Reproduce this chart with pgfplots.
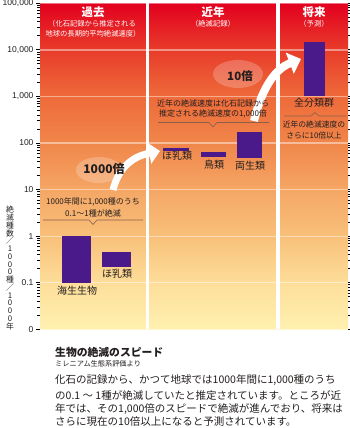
\documentclass[border=0pt]{standalone}
\usepackage{fontspec}
\setmainfont{Liberation Sans}
\newfontfamily\jp{Noto Sans CJK JP}
\usepackage{pgfplots}
\pgfplotsset{compat=1.18}
\usetikzlibrary{arrows.meta}
\definecolor{barc}{RGB}{74,26,138}
\definecolor{cA}{RGB}{227,0,31}
\definecolor{cB}{RGB}{232,58,42}
\definecolor{cC}{RGB}{238,106,58}
\definecolor{cD}{RGB}{240,134,74}
\definecolor{cE}{RGB}{245,166,101}
\definecolor{cF}{RGB}{248,192,122}
\definecolor{cG}{RGB}{253,222,154}
\definecolor{cH}{RGB}{255,241,176}
\definecolor{brk}{RGB}{140,95,75}
\definecolor{txt}{RGB}{35,30,30}
\pgfdeclareverticalshading{bgsh}{100bp}{color(0bp)=(cH); color(25bp)=(cH); color(32.1bp)=(cG); color(39.3bp)=(cF); color(46.5bp)=(cE); color(53.6bp)=(cD); color(60.8bp)=(cC); color(68.1bp)=(cB); color(75bp)=(cA); color(100bp)=(cA)}
\begin{document}
\begin{tikzpicture}
\useasboundingbox (0,0) rectangle (350pt,-428pt);
\begin{axis}[
  at={(40pt,-329.3pt)}, anchor=south west, scale only axis,
  width=308pt, height=326pt,
  xmin=40, xmax=348, ymode=log, ymin=0.01, ymax=100000,
  axis background/.style={shading=bgsh},
  axis line style={draw=none},
  xtick=\empty,
  ytick={0.01,0.1,1,10,100,1000,10000,100000},
  yticklabels={0,0.1,1,10,100,{1,000},{10,000},{100,000}},
  minor ytick={},
  tick align=outside, major tick length=4pt,
  ytick style={draw=black, line width=0.8pt},
  yticklabel style={font=\fontsize{8.5}{10}\selectfont, text=txt, xshift=1pt},
  /pgf/number format/assume math mode=true,
  ymajorgrids, major grid style={white, opacity=0.45, line width=1.3pt},
  clip=false,
]
\draw[white, line width=3.5pt] (axis cs:147.5,0.01) -- (axis cs:147.5,100000);
\draw[white, line width=3.5pt] (axis cs:278,0.01) -- (axis cs:278,100000);
% bars (x in px, y values)
\addplot[fill=barc, draw=none] coordinates {(62,0.1) (91,0.1) (91,1) (62,1)} -- cycle;
\addplot[fill=barc, draw=none] coordinates {(102,0.22) (131,0.22) (131,0.45) (102,0.45)} -- cycle;
\addplot[fill=barc, draw=none] coordinates {(163,69) (189,69) (189,78) (163,78)} -- cycle;
\addplot[fill=barc, draw=none] coordinates {(201,49) (226,49) (226,63) (201,63)} -- cycle;
\addplot[fill=barc, draw=none] coordinates {(237,48) (262,48) (262,175) (237,175)} -- cycle;
\addplot[fill=barc, draw=none] coordinates {(304,1000) (325,1000) (325,14500) (304,14500)} -- cycle;
\end{axis}
% panel titles
\node[white, font=\jp\bfseries\fontsize{11.5}{12}\selectfont, inner sep=0] at (93pt,-12pt) {過去};
\node[white, font=\jp\fontsize{7.3}{9}\selectfont, inner sep=0] at (92pt,-24pt) {（化石記録から推定される};
\node[white, font=\jp\fontsize{7.3}{9}\selectfont, inner sep=0] at (93pt,-33.5pt) {地球の長期的平均絶滅速度）};
\node[white, font=\jp\bfseries\fontsize{11.5}{12}\selectfont, inner sep=0] at (213pt,-12pt) {近年};
\node[white, font=\jp\fontsize{7.3}{9}\selectfont, inner sep=0] at (213pt,-24pt) {（絶滅記録）};
\node[white, font=\jp\bfseries\fontsize{11.5}{12}\selectfont, inner sep=0] at (314pt,-12pt) {将来};
\node[white, font=\jp\fontsize{7.3}{9}\selectfont, inner sep=0] at (314pt,-24pt) {（予測）};
% ellipses
\fill[white, opacity=0.22] (238pt,-74pt) ellipse (25pt and 14pt);
\fill[white, opacity=0.22] (99pt,-170pt) ellipse (23pt and 13pt);
% arrows
\draw[white, line width=7pt, -{Triangle[width=21pt, length=11pt]}] (113pt,-190pt) .. controls (118pt,-170pt) and (130pt,-157pt) .. (160pt,-151pt);
\draw[white, line width=8pt, -{Triangle[width=22pt, length=12pt]}] (254pt,-121pt) .. controls (260pt,-95pt) and (272pt,-70pt) .. (301pt,-59pt);
\node[txt, font=\jp\bfseries\fontsize{11.5}{12}\selectfont, inner sep=0] at (240pt,-76pt) {10倍};
\node[txt, font=\jp\bfseries\fontsize{12}{12}\selectfont, inner sep=0] at (104pt,-169pt) {1000倍};
% past annotation
\node[txt, font=\jp\fontsize{8}{9}\selectfont, inner sep=0] at (93pt,-202pt) {1000年間に1,000種のうち};
\node[txt, font=\jp\fontsize{8}{9}\selectfont, inner sep=0] at (93pt,-213pt) {0.1～1種が絶滅};
\draw[brk, line width=0.6pt] (43pt,-220pt) -- (89pt,-220pt) -- (93pt,-224.5pt) -- (97pt,-220pt) -- (143pt,-220pt);
% recent annotation
\node[txt, font=\jp\fontsize{8}{9}\selectfont, inner sep=0] at (213pt,-103pt) {近年の絶滅速度は化石記録から};
\node[txt, font=\jp\fontsize{8}{9}\selectfont, inner sep=0] at (213pt,-114pt) {推定される絶滅速度の1,000倍};
\draw[brk, line width=0.6pt] (158pt,-122.5pt) -- (209pt,-122.5pt) -- (213pt,-127pt) -- (217pt,-122.5pt) -- (269pt,-122.5pt);
% future annotation
\node[txt, font=\jp\fontsize{10}{11}\selectfont, inner sep=0] at (314pt,-103pt) {全分類群};
\draw[brk, line width=0.6pt] (284pt,-116pt) -- (311pt,-116pt) -- (315pt,-112.5pt) -- (319pt,-116pt) -- (346pt,-116pt);
\node[txt, font=\jp\fontsize{7.8}{9}\selectfont, inner sep=0] at (314pt,-125pt) {近年の絶滅速度の};
\node[txt, font=\jp\fontsize{7.8}{9}\selectfont, inner sep=0] at (314pt,-135.5pt) {さらに10倍以上};
% category labels
\node[txt, font=\jp\fontsize{10}{11}\selectfont, inner sep=0] at (77pt,-291pt) {海生生物};
\node[txt, font=\jp\fontsize{10}{11}\selectfont, inner sep=0] at (117pt,-274pt) {ほ乳類};
\node[txt, font=\jp\fontsize{10}{11}\selectfont, inner sep=0] at (177pt,-156pt) {ほ乳類};
\node[txt, font=\jp\fontsize{10}{11}\selectfont, inner sep=0] at (214pt,-165pt) {鳥類};
\node[txt, font=\jp\fontsize{10}{11}\selectfont, inner sep=0] at (250pt,-166pt) {両生類};
% y label (vertical)
\node[txt, font=\jp\fontsize{7.8}{7.75}\selectfont, inner sep=0, align=center, anchor=north] at (10pt,-206pt) {絶\\滅\\種\\数\\／\\1\\0\\0\\0\\種\\／\\1\\0\\0\\0\\年};
% caption
\node[txt, font=\jp\bfseries\fontsize{10.8}{12}\selectfont, inner sep=0, anchor=west] at (55pt,-352pt) {生物の絶滅のスピード};
\node[txt, font=\jp\fontsize{7.2}{9}\selectfont, inner sep=0, anchor=west] at (55pt,-364pt) {ミレニアム生態系評価より};
\node[txt, font=\jp\fontsize{10.5}{12}\selectfont, inner sep=0, anchor=west] at (55pt,-380pt) {化石の記録から、かつて地球では1000年間に1,000種のうち};
\node[txt, font=\jp\fontsize{10.5}{12}\selectfont, inner sep=0, anchor=west] at (55pt,-395pt) {の0.1 ～ 1種が絶滅していたと推定されています。ところが近};
\node[txt, font=\jp\fontsize{10.5}{12}\selectfont, inner sep=0, anchor=west] at (55pt,-409.5pt) {年では、その1,000倍のスピードで絶滅が進んでおり、将来は};
\node[txt, font=\jp\fontsize{10.5}{12}\selectfont, inner sep=0, anchor=west] at (55pt,-422pt) {さらに現在の10倍以上になると予測されています。};
\end{tikzpicture}
\end{document}
